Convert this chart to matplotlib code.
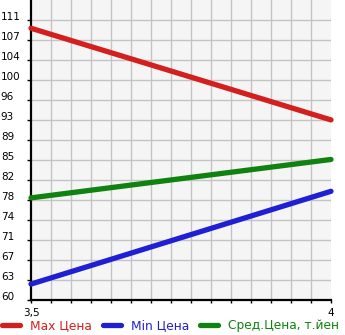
import matplotlib
matplotlib.use("Agg")
import matplotlib.pyplot as plt
from matplotlib.lines import Line2D
import numpy as np

x_vals = [3.5, 4.0]
max_price = [109.5, 92.8]
min_price = [62.9, 79.8]
avg_price = [78.6, 85.6]

y_ticks = [60, 63.64, 67.29, 70.93, 74.57, 78.21, 81.86, 85.5, 89.14, 92.79, 96.43, 100.07, 103.71, 107.36, 111.0]
y_labels = ["60", "63", "67", "71", "74", "78", "82", "85", "89", "93", "96", "100", "104", "107", "111"]
x_major = [3.5, 4.0]
x_labels = ["3,5", "4"]
series_names = ["Max Цена", "Min Цена", "Сред.Цена, т.йен"]
colors = ["#d41f1f", "#1f1fd4", "#0f820f"]

W, H, DPI = 345, 335, 100
fig = plt.figure(figsize=(W / DPI, H / DPI), dpi=DPI)
ax = fig.add_axes([31 / W, (H - 300) / H, 300 / W, 300 / H])
ax.set_facecolor("#f5f5f5")

step = (y_ticks[-1] - y_ticks[0]) / 14
ax.set_ylim(60, 111 + step)
ax.set_xlim(3.5, 4.0)

ax.set_yticks(y_ticks)
ax.set_yticklabels(y_labels)
ax.set_xticks(x_major)
ax.set_xticklabels(x_labels)
ax.set_xticks(np.linspace(3.5, 4.0, 16), minor=True)

ax.grid(True, which="minor", axis="x", color="#c4c4c4", linewidth=1.0)
ax.grid(True, which="major", axis="y", color="#c4c4c4", linewidth=1.0)
ax.set_axisbelow(True)

for s in ["top", "right"]:
    ax.spines[s].set_visible(False)
for s in ["left", "bottom"]:
    ax.spines[s].set_linewidth(1.6)
    ax.spines[s].set_color("black")

ax.tick_params(axis="y", which="major", length=3.2, width=1.0, color="black", pad=18.5, labelsize=7.5)
ax.tick_params(axis="x", which="both", length=2.5, width=1.0, color="black", pad=3, labelsize=7.5)
for lbl in ax.get_yticklabels():
    lbl.set_horizontalalignment("left")
    lbl.set_verticalalignment("baseline")

for ys, c in zip([max_price, min_price, avg_price], colors):
    ax.plot(x_vals, ys, color=c, linewidth=3.8, solid_capstyle="round", clip_on=False, zorder=3)

handles = [Line2D([0], [0], color=c, linewidth=3.8, solid_capstyle="round") for c in colors]
leg = fig.legend(handles, series_names, loc="lower left", bbox_to_anchor=(-0.004, 0.0),
                 ncol=3, frameon=False, fontsize=8.8, handlelength=1.5, handletextpad=0.8,
                 columnspacing=0.9, borderpad=0.25, borderaxespad=0)
for t, c in zip(leg.get_texts(), colors):
    t.set_color(c)

fig.savefig("out.png", dpi=DPI)
